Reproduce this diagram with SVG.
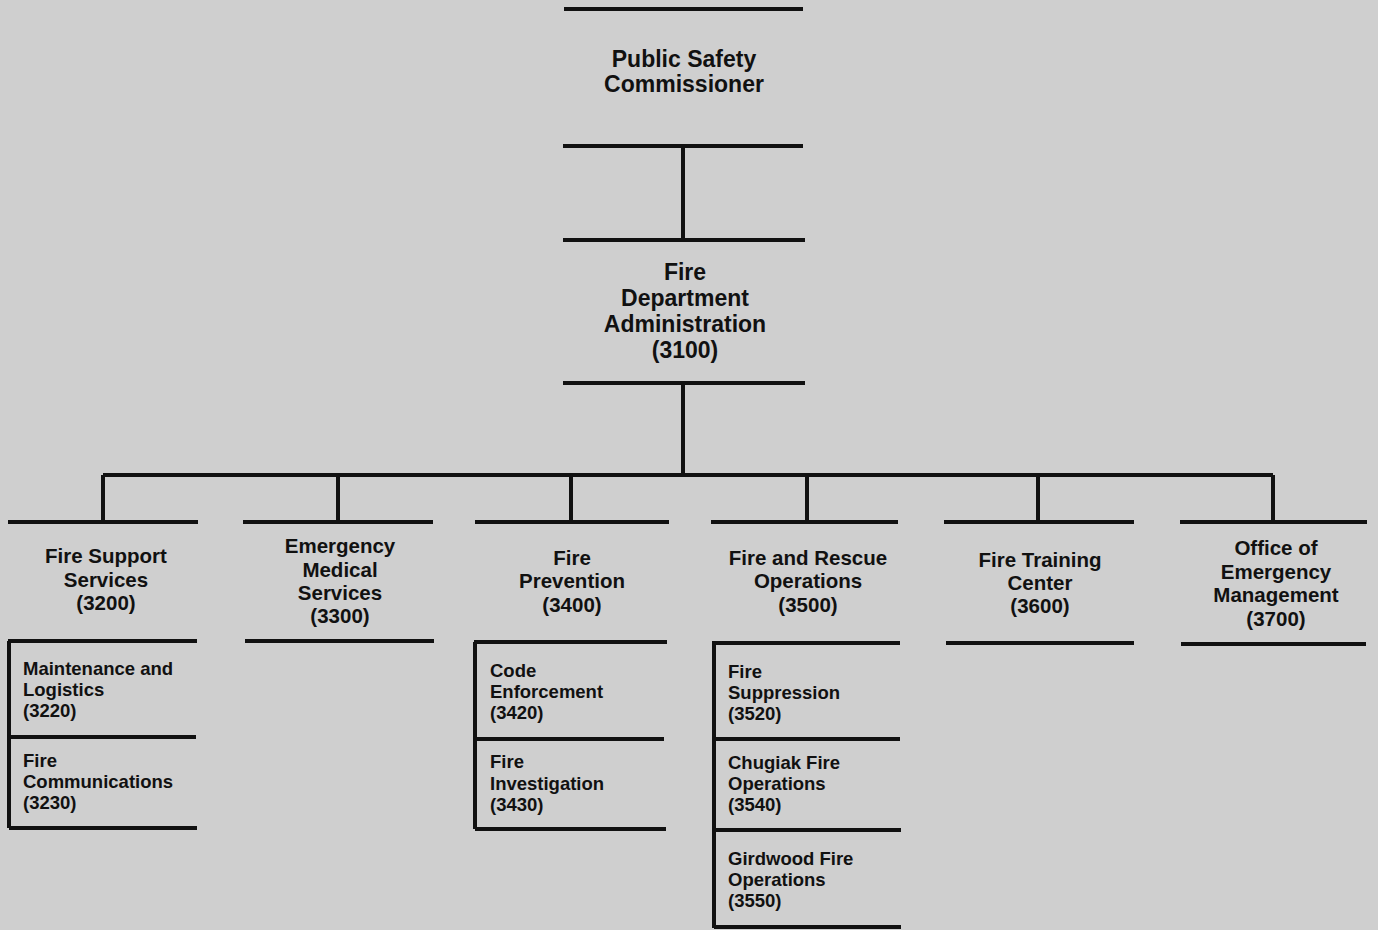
<svg xmlns="http://www.w3.org/2000/svg" width="1378" height="930" viewBox="0 0 1378 930">
<style>
.bg{fill:#cfcfcf}
.ln{stroke:#111;stroke-width:4;fill:none;stroke-linecap:butt}
text{font-family:"Liberation Sans",Arial,sans-serif;font-weight:bold;fill:#111}
.t1{font-size:23px;text-anchor:middle}
.t2{font-size:20.5px;text-anchor:middle}
.t3{font-size:18.5px}
</style>
<rect class="bg" x="0" y="0" width="1378" height="930"/>
<g id="connectors">
<path class="ln" d="M683 146V240M683 383V475M103 475H1273M103 475V522M338 475V522M571 475V522M807 475V522M1038 475V522M1273 475V522"/>
</g>
<g id="n-psc">
<path class="ln" d="M564 9H803M563 146H803"/>
<text class="t1" x="684" y="67">Public Safety</text>
<text class="t1" x="684" y="92">Commissioner</text>
</g>
<g id="n-3100">
<path class="ln" d="M563 240H805M563 383H805"/>
<text class="t1" x="685" y="280">Fire</text>
<text class="t1" x="685" y="306">Department</text>
<text class="t1" x="685" y="332">Administration</text>
<text class="t1" x="685" y="358">(3100)</text>
</g>
<g id="n-3200">
<path class="ln" d="M8 522H198M8 641H197"/>
<text class="t2" x="106" y="563">Fire Support</text>
<text class="t2" x="106" y="587">Services</text>
<text class="t2" x="106" y="610">(3200)</text>
</g>
<g id="n-3300">
<path class="ln" d="M243 522H433M245 641H434"/>
<text class="t2" x="340" y="553">Emergency</text>
<text class="t2" x="340" y="577">Medical</text>
<text class="t2" x="340" y="600">Services</text>
<text class="t2" x="340" y="623">(3300)</text>
</g>
<g id="n-3400">
<path class="ln" d="M475 522H669M474 642H667"/>
<text class="t2" x="572" y="565">Fire</text>
<text class="t2" x="572" y="588">Prevention</text>
<text class="t2" x="572" y="612">(3400)</text>
</g>
<g id="n-3500">
<path class="ln" d="M711 522H898M712 643H900"/>
<text class="t2" x="808" y="565">Fire and Rescue</text>
<text class="t2" x="808" y="588">Operations</text>
<text class="t2" x="808" y="612">(3500)</text>
</g>
<g id="n-3600">
<path class="ln" d="M944 522H1134M946 643H1134"/>
<text class="t2" x="1040" y="567">Fire Training</text>
<text class="t2" x="1040" y="590">Center</text>
<text class="t2" x="1040" y="613">(3600)</text>
</g>
<g id="n-3700">
<path class="ln" d="M1180 522H1367M1181 644H1366"/>
<text class="t2" x="1276" y="555">Office of</text>
<text class="t2" x="1276" y="579">Emergency</text>
<text class="t2" x="1276" y="602">Management</text>
<text class="t2" x="1276" y="626">(3700)</text>
</g>
<g id="n-3220">
<path class="ln" d="M9 641V828M9 737H196"/>
<text class="t3" x="23" y="675">Maintenance and</text>
<text class="t3" x="23" y="696">Logistics</text>
<text class="t3" x="23" y="717">(3220)</text>
</g>
<g id="n-3230">
<path class="ln" d="M9 828H197"/>
<text class="t3" x="23" y="767">Fire</text>
<text class="t3" x="23" y="788">Communications</text>
<text class="t3" x="23" y="809">(3230)</text>
</g>
<g id="n-3420">
<path class="ln" d="M475 642V829M475 739H664"/>
<text class="t3" x="490" y="677">Code</text>
<text class="t3" x="490" y="698">Enforcement</text>
<text class="t3" x="490" y="719">(3420)</text>
</g>
<g id="n-3430">
<path class="ln" d="M475 829H666"/>
<text class="t3" x="490" y="768">Fire</text>
<text class="t3" x="490" y="790">Investigation</text>
<text class="t3" x="490" y="811">(3430)</text>
</g>
<g id="n-3520">
<path class="ln" d="M714 643V928M714 739H900"/>
<text class="t3" x="728" y="678">Fire</text>
<text class="t3" x="728" y="699">Suppression</text>
<text class="t3" x="728" y="720">(3520)</text>
</g>
<g id="n-3540">
<path class="ln" d="M714 830H901"/>
<text class="t3" x="728" y="769">Chugiak Fire</text>
<text class="t3" x="728" y="790">Operations</text>
<text class="t3" x="728" y="811">(3540)</text>
</g>
<g id="n-3550">
<path class="ln" d="M714 927H901"/>
<text class="t3" x="728" y="865">Girdwood Fire</text>
<text class="t3" x="728" y="886">Operations</text>
<text class="t3" x="728" y="907">(3550)</text>
</g>
</svg>
